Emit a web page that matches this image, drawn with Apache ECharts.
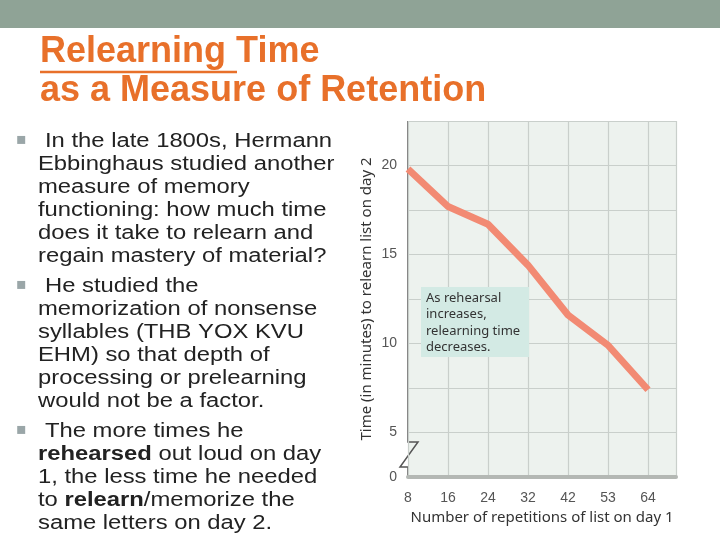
<!DOCTYPE html>
<html>
<head>
<meta charset="utf-8">
<script src="https://cdn.jsdelivr.net/npm/echarts@6/dist/echarts.min.js"></script>
<style>html,body{margin:0;padding:0;background:#fff}#c{width:720px;height:540px}</style>
</head>
<body>
<div id="c"></div>
<script>
var repetitions = ['8', '16', '24', '32', '42', '53', '64'];
var relearnMinutes = [19.8, 17.7, 16.7, 14.4, 11.6, 9.9, 7.4];
var bulletLines = [
    ['In the late 1800s, Hermann', true],
    ['Ebbinghaus studied another', false],
    ['measure of memory', false],
    ['functioning: how much time', false],
    ['does it take to relearn and', false],
    ['regain mastery of material?', false],
    ['He studied the', true],
    ['memorization of nonsense', false],
    ['syllables (THB YOX KVU', false],
    ['EHM) so that depth of', false],
    ['processing or prelearning', false],
    ['would not be a factor.', false],
    ['The more times he', true],
    ['{b|rehearsed} out loud on day', false],
    ['1, the less time he needed', false],
    ['to {b|relearn}/memorize the', false],
    ['same letters on day 2.', false]
];

var chart = echarts.init(document.getElementById('c'));
var data = relearnMinutes.map(function (v, i) { return [i, v]; });

var graphics = [
    { type: 'rect', shape: { x: 0, y: 0, width: 720, height: 28 }, style: { fill: '#8fa396' } },
    { type: 'text', x: 40, y: 34, style: { text: 'Relearning Time', font: 'bold 36px "Liberation Sans"', fill: '#e8702a' } },
    { type: 'line', shape: { x1: 40, y1: 72, x2: 237, y2: 72 }, style: { stroke: '#e8702a', lineWidth: 2.5 } },
    { type: 'text', x: 40, y: 73, style: { text: 'as a Measure of Retention', font: 'bold 36px "Liberation Sans"', fill: '#e8702a' } },
    { type: 'polyline', shape: { points: [[408, 121], [408, 442], [418, 442], [400, 467], [408, 467], [408, 477]] }, style: { stroke: '#555', lineWidth: 1.5, fill: null } },
    { type: 'rect', shape: { x: 421, y: 287, width: 108, height: 70 }, style: { fill: '#d3eae4' }, z: 10 },
    { type: 'text', x: 426, y: 290, z: 11, style: { text: 'As rehearsal\nincreases,\nrelearning time\ndecreases.', font: '13px "Noto Sans"', lineHeight: 16.5, fill: '#333' } }
];

var y = 131;
bulletLines.forEach(function (l, i) {
    if (l[1]) {
        if (i > 0) y += 7;
        graphics.push({ type: 'text', x: 16, y: y + 1, style: { text: '▪', font: '16px "DejaVu Sans"', fill: '#9aa6a8' } });
    }
    graphics.push({
        type: 'text', x: l[1] ? 45 : 38, y: y, scaleX: 1.19,
        style: { text: l[0], font: '20px "Liberation Sans"', fill: '#222', rich: { b: { fontWeight: 'bold', fontSize: 20, fontFamily: 'Liberation Sans' } } }
    });
    y += 23;
});

chart.setOption({
    animation: false,
    grid: { left: 408, right: 44, top: 121, bottom: 63, backgroundColor: '#edf2ee', show: true, borderWidth: 0 },
    xAxis: {
        type: 'value', min: 0, max: 6.7, interval: 1,
        name: 'Number of repetitions of list on day 1', nameLocation: 'middle', nameGap: 31,
        nameTextStyle: { fontSize: 15, color: '#333', fontFamily: 'Noto Sans' },
        axisLine: { lineStyle: { color: '#b4b8b4', width: 4 } },
        axisTick: { show: false },
        splitLine: { lineStyle: { color: '#c9cfcb', width: 1.2 } },
        axisLabel: {
            showMaxLabel: false, color: '#555', fontSize: 14, margin: 14,
            formatter: function (v) { return Number.isInteger(v) ? repetitions[v] : ''; }
        }
    },
    yAxis: {
        type: 'value', min: 2.5, max: 22.5, interval: 2.5,
        name: 'Time (in minutes) to relearn list on day 2', nameLocation: 'middle', nameGap: 34,
        nameTextStyle: { fontSize: 15, color: '#333', fontFamily: 'Noto Sans' },
        axisLine: { show: false }, axisTick: { show: false },
        splitLine: { lineStyle: { color: '#c9cfcb', width: 1.2 } },
        axisLabel: {
            color: '#555', fontSize: 14, margin: 11, showMaxLabel: false,
            formatter: function (v) { return v === 2.5 ? '0' : (v % 5 === 0 ? String(v) : ''); }
        }
    },
    series: [{
        type: 'line', data: data, symbol: 'none',
        lineStyle: { color: '#f28a73', width: 7 }
    }],
    graphic: graphics
});
</script>
</body>
</html>
